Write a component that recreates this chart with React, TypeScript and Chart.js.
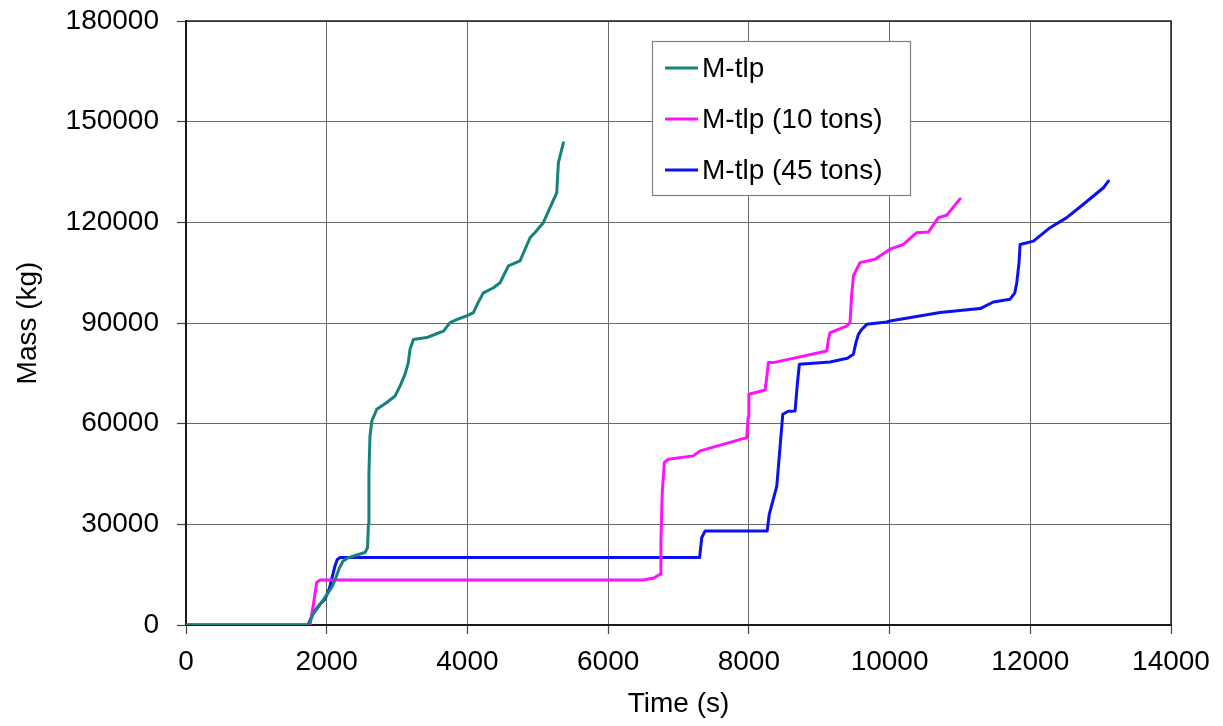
import React, { useEffect, useRef } from "react";
import { Chart, registerables } from "chart.js";

Chart.register(...registerables);

const seriesLabels = ["M-tlp", "M-tlp (10 tons)", "M-tlp (45 tons)"];
const seriesColors = ["#15837b", "#ff10ff", "#0a10f0"];

const greenTime = [0, 1734, 1800, 1900, 2000, 2071, 2120, 2180, 2230, 2300, 2450, 2544, 2580, 2593, 2600, 2615, 2641, 2712, 2854, 2971, 3042, 3113, 3160, 3184, 3233, 3300, 3423, 3560, 3660, 3753, 3870, 3990, 4085, 4150, 4227, 4370, 4464, 4582, 4748, 4890, 4960, 5079, 5174, 5269, 5280, 5293, 5364];
const greenMass = [0, 0, 3000, 6000, 9000, 11200, 13500, 17000, 19000, 20000, 21000, 21600, 23000, 30000, 45000, 56300, 60800, 64300, 66300, 68250, 71200, 74700, 78200, 82200, 85100, 85300, 85650, 86800, 87600, 90100, 91200, 92100, 93100, 96000, 99000, 100500, 102000, 107000, 108500, 115400, 117000, 119900, 124400, 128800, 133000, 137800, 143700];

const magentaTime = [0, 1763, 1810, 1858, 1905, 6496, 6650, 6738, 6750, 6770, 6800, 6857, 7211, 7306, 7970, 7990, 8000, 8231, 8255, 8278, 8349, 9107, 9130, 9154, 9391, 9438, 9460, 9486, 9580, 9794, 10007, 10196, 10386, 10551, 10694, 10812, 11002];
const magentaMass = [0, 0, 6000, 12700, 13400, 13400, 14000, 15130, 25000, 40000, 48500, 49400, 50400, 51900, 55850, 62000, 68750, 70040, 74000, 78200, 78200, 81650, 85000, 87130, 89100, 90100, 98000, 104000, 108000, 109000, 112000, 113400, 116900, 117100, 121400, 122100, 127000];

const blueTime = [0, 1734, 1820, 1905, 1976, 2040, 2071, 2118, 2150, 2189, 7300, 7330, 7377, 8260, 8290, 8397, 8482, 8560, 8657, 8690, 8718, 9154, 9400, 9486, 9520, 9557, 9600, 9675, 9960, 10007, 10718, 11000, 11287, 11476, 11713, 11780, 11808, 11840, 11855, 12045, 12281, 12518, 12755, 13039, 13110];
const blueMass = [0, 0, 4000, 6200, 7700, 11000, 13640, 17600, 19500, 20100, 20100, 26000, 28000, 28000, 33000, 41400, 62800, 63700, 63800, 72000, 77700, 78400, 79500, 80700, 84000, 86600, 88000, 89600, 90300, 90600, 93100, 93700, 94300, 96250, 97100, 99000, 102000, 108000, 113400, 114400, 118400, 121400, 125400, 130300, 132300];

const xMin = 0;
const xMax = 14000;
const xStep = 2000;
const yMin = 0;
const yMax = 180000;
const yStep = 30000;
const xTitle = "Time (s)";
const yTitle = "Mass (kg)";

const FONT = "'Liberation Sans', Arial, Helvetica, sans-serif";

function toPoints(t: number[], m: number[]) {
  return t.map((x, i) => ({ x, y: m[i] }));
}

const framePlugin = {
  id: "frame",
  beforeDatasetsDraw(chart: any) {
    const { ctx, chartArea } = chart;
    ctx.save();
    ctx.strokeStyle = "#222";
    ctx.lineWidth = 1.5;
    ctx.strokeRect(chartArea.left, chartArea.top, chartArea.right - chartArea.left, chartArea.bottom - chartArea.top);
    ctx.restore();
  },
};

const boxLegendPlugin = {
  id: "boxLegend",
  afterDraw(chart: any) {
    const { ctx } = chart;
    const x0 = 652;
    const y0 = 41;
    const w = 258;
    const h = 154;
    ctx.save();
    ctx.fillStyle = "#ffffff";
    ctx.fillRect(x0, y0, w, h);
    ctx.strokeStyle = "#808080";
    ctx.lineWidth = 1.2;
    ctx.strokeRect(x0 + 0.5, y0 + 0.5, w, h);
    ctx.font = `28px ${FONT}`;
    ctx.textBaseline = "middle";
    ctx.textAlign = "left";
    chart.data.datasets.forEach((ds: any, i: number) => {
      const yc = y0 + 27 + i * 51;
      ctx.strokeStyle = ds.borderColor;
      ctx.lineWidth = 3;
      ctx.beginPath();
      ctx.moveTo(x0 + 13, yc);
      ctx.lineTo(x0 + 46, yc);
      ctx.stroke();
      ctx.fillStyle = "#000";
      ctx.fillText(ds.label, x0 + 50, yc + 1);
    });
    ctx.restore();
  },
};

export default function App() {
  const ref = useRef<HTMLCanvasElement | null>(null);

  useEffect(() => {
    if (!ref.current) return;
    const series = [
      toPoints(greenTime, greenMass),
      toPoints(magentaTime, magentaMass),
      toPoints(blueTime, blueMass),
    ];
    const chart = new Chart(ref.current, {
      type: "line",
      data: {
        datasets: series.map((pts, i) => ({
          label: seriesLabels[i],
          data: pts,
          borderColor: seriesColors[i],
          backgroundColor: seriesColors[i],
          borderWidth: 3,
          pointRadius: 0,
          tension: 0,
          fill: false,
          borderJoinStyle: "round",
          borderCapStyle: "round",
        })),
      },
      options: {
        responsive: false,
        animation: false,
        layout: { padding: { left: 0, right: 52, top: 21, bottom: 0 } },
        plugins: {
          legend: { display: false },
          tooltip: { enabled: false },
          title: { display: false },
        },
        scales: {
          x: {
            type: "linear",
            min: xMin,
            max: xMax,
            afterFit: (scale: any) => {
              scale.height = 101;
              scale.paddingLeft = 0;
              scale.paddingRight = 0;
            },
            ticks: {
              stepSize: xStep,
              autoSkip: false,
              maxRotation: 0,
              padding: 11,
              color: "#000",
              font: { family: FONT, size: 28 },
              callback: (v: any) => String(v),
            },
            grid: {
              color: "#6a6a6a",
              lineWidth: 1,
              borderDash: [2, 2],
              tickLength: 9,
              tickColor: "#444",
              tickWidth: 1.2,
              tickBorderDash: [],
            },
            border: { display: true, color: "#000", width: 2 },
            title: {
              display: true,
              text: xTitle,
              color: "#000",
              font: { family: FONT, size: 28 },
              padding: { top: 0, bottom: 5 },
            },
          },
          y: {
            type: "linear",
            min: yMin,
            max: yMax,
            afterFit: (scale: any) => {
              scale.width = 186;
              scale.paddingTop = 0;
              scale.paddingBottom = 0;
            },
            ticks: {
              stepSize: yStep,
              padding: 18,
              color: "#000",
              font: { family: FONT, size: 28 },
              callback: (v: any) => String(v),
            },
            grid: {
              color: "#6a6a6a",
              lineWidth: 1,
              borderDash: [2, 2],
              tickLength: 9,
              tickColor: "#444",
              tickWidth: 1.2,
              tickBorderDash: [],
            },
            border: { display: true, color: "#000", width: 2 },
            title: {
              display: true,
              text: yTitle,
              color: "#000",
              font: { family: FONT, size: 28 },
              padding: { top: 11, bottom: 0 },
            },
          },
        },
      },
      plugins: [framePlugin, boxLegendPlugin],
    } as any);
    return () => chart.destroy();
  }, []);

  return (
    <div style={{ position: "absolute", left: 0, top: 0, width: 1223, height: 726, background: "#fff" }}>
      <canvas ref={ref} width={1223} height={726} style={{ display: "block", width: 1223, height: 726 }} />
    </div>
  );
}
